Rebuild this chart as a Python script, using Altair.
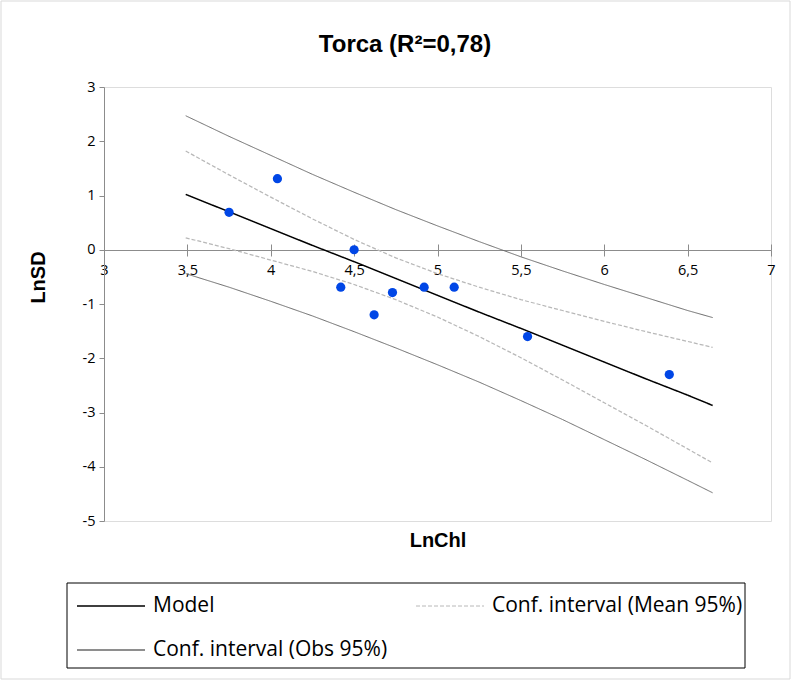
import altair as alt
import pandas as pd

# Observed points (LnChl, LnSD)
pt_x = [3.75, 4.04, 4.50, 4.42, 4.62, 4.73, 4.92, 5.10, 5.54, 6.39]
pt_y = [0.69, 1.31, 0.00, -0.69, -1.20, -0.79, -0.69, -0.69, -1.60, -2.30]

# Curves read along LnChl
cx = [3.49, 3.75, 4.0, 4.25, 4.5, 4.75, 5.0, 5.25, 5.5, 5.75, 6.0, 6.25, 6.5, 6.65]
model = [1.02, 0.70, 0.39, 0.08, -0.22, -0.53, -0.84, -1.15, -1.45, -1.76, -2.07, -2.38, -2.68, -2.87]
mean_up = [1.82, 1.38, 0.97, 0.57, 0.19, -0.15, -0.44, -0.69, -0.92, -1.12, -1.32, -1.51, -1.69, -1.80]
mean_lo = [0.22, 0.02, -0.19, -0.40, -0.64, -0.92, -1.24, -1.60, -1.99, -2.40, -2.82, -3.24, -3.67, -3.93]
obs_up = [2.47, 2.09, 1.74, 1.39, 1.06, 0.74, 0.44, 0.15, -0.13, -0.39, -0.64, -0.88, -1.12, -1.25]
obs_lo = [-0.44, -0.69, -0.95, -1.22, -1.51, -1.81, -2.12, -2.44, -2.78, -3.13, -3.50, -3.87, -4.25, -4.48]

x_ticks = [3, 3.5, 4, 4.5, 5, 5.5, 6, 6.5, 7]
y_ticks = [-5, -4, -3, -2, -1, 0, 1, 2, 3]

TITLE = "Torca (R²=0,78)"
S_MODEL = "Model"
S_MEAN = "Conf. interval (Mean 95%)"
S_OBS = "Conf. interval (Obs 95%)"
series_names = [S_MODEL, S_MEAN, S_OBS]
series_colors = ["#000000", "#b8b8b8", "#6a6a6a"]
series_dash = [[1, 0], [4, 2], [1, 0]]
series_width = [1.5, 1.0, 1.3]

rows = []
for name, key, ys in [(S_MODEL, "m", model), (S_MEAN, "mu", mean_up), (S_MEAN, "ml", mean_lo),
                      (S_OBS, "ou", obs_up), (S_OBS, "ol", obs_lo)]:
    for i, (xv, yv) in enumerate(zip(cx, ys)):
        rows.append({"x": xv, "y": yv, "series": name, "line": key, "i": i})
lines_df = pd.DataFrame(rows)
pts_df = pd.DataFrame({"x": pt_x, "y": pt_y})
one = pd.DataFrame({"k": [0]})

AX = "#8c8c8c"
LBL = "Open Sans"
label_expr = "replace(replace(format(datum.value, '~g'), '.', ','), '\u2212', '-')"

xscale = alt.Scale(domain=[3, 7], nice=False, zero=False)
yscale = alt.Scale(domain=[-5, 3], nice=False, zero=False)

yaxis = alt.Axis(values=y_ticks, grid=False, domainColor=AX, tickColor=AX, tickSize=5,
                 labelFont=LBL, labelFontSize=14.5, labelColor="#000", labelPadding=4,
                 labelExpr=label_expr,
                 title="LnSD", titleFont="Liberation Sans", titleFontSize=20, titleFontWeight="bold",
                 titleColor="#000", titleAngle=-90, titleX=-66, titleY=190,
                 titleBaseline="middle", titleAlign="center")

lines = alt.Chart(lines_df).mark_line().encode(
    x=alt.X("x:Q", scale=xscale,
            axis=alt.Axis(values=x_ticks, grid=False, orient="bottom", offset=-271,
                          domainColor=AX, tickColor=AX, tickSize=6,
                          labelFont=LBL, labelFontSize=14.5, labelColor="#000", labelPadding=7,
                          labelExpr=label_expr, labelOverlap=False, labelFlush=False,
                          title="LnChl", titleFont="Liberation Sans", titleFontSize=20,
                          titleFontWeight="bold", titleColor="#000", titleY=290,
                          titleBaseline="middle")),
    y=alt.Y("y:Q", scale=yscale, axis=yaxis),
    color=alt.Color("series:N", scale=alt.Scale(domain=series_names, range=series_colors),
                    legend=None),
    strokeDash=alt.StrokeDash("series:N", scale=alt.Scale(domain=series_names, range=series_dash),
                              legend=None),
    strokeWidth=alt.StrokeWidth("series:N", scale=alt.Scale(domain=series_names, range=series_width),
                                legend=None),
    detail="line:N",
    order="i:Q",
)

points = alt.Chart(pts_df).mark_circle(size=85, opacity=1, color="#0046e6").encode(
    x=alt.X("x:Q", scale=xscale,
            axis=alt.Axis(values=x_ticks, grid=False, orient="top", offset=-163,
                          domain=False, labels=False, tickColor=AX, tickSize=6, title=None)),
    y=alt.Y("y:Q", scale=yscale, axis=yaxis),
)

frame = alt.Chart(one).mark_rect(filled=False, stroke="#d9d9d9", strokeWidth=1).encode(
    x=alt.value(-103), x2=alt.value(686), y=alt.value(-86), y2=alt.value(592)
)

title = alt.Chart(pd.DataFrame({"t": [TITLE]})).mark_text(
    font="Liberation Sans", fontSize=24, fontWeight="bold", color="#000",
    align="center", baseline="middle"
).encode(text="t:N", x=alt.value(301), y=alt.value(-42))

# Manual legend
legend_box = alt.Chart(one).mark_rect(filled=False, stroke="#000", strokeWidth=1).encode(
    x=alt.value(-37), x2=alt.value(641), y=alt.value(496), y2=alt.value(581)
)
legend_pos = [(-27, 519), (312, 519), (-27, 563)]
legend_layers = []
for name, col, dash, w, (lx, ly) in zip(series_names, series_colors, series_dash, series_width, legend_pos):
    legend_layers.append(
        alt.Chart(one).mark_rule(color=col, strokeDash=dash, strokeWidth=w).encode(
            x=alt.value(lx), x2=alt.value(lx + 68), y=alt.value(ly)
        )
    )
    legend_layers.append(
        alt.Chart(pd.DataFrame({"t": [name]})).mark_text(
            font=LBL, fontSize=21, color="#000", align="left", baseline="middle"
        ).encode(text="t:N", x=alt.value(lx + 76), y=alt.value(ly))
    )

chart = alt.layer(frame, lines, points, title, legend_box, *legend_layers).resolve_axis(
    x="independent"
).properties(
    width=667, height=434,
    autosize=alt.AutoSizeParams(type="none"),
    padding={"left": 104, "top": 87, "right": 22, "bottom": 159},
).configure_view(stroke=AX, strokeWidth=1).configure(background="white")

chart.save("out.html", embed_options={"renderer": "svg", "actions": False})
